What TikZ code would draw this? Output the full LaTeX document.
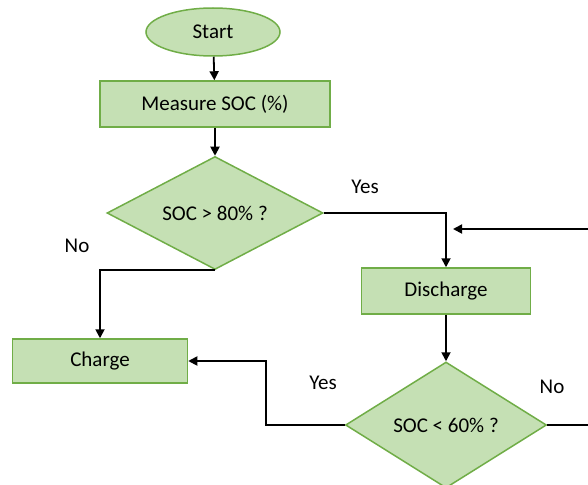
\documentclass[tikz,border=0pt]{standalone}
\usepackage{fontspec}
\setmainfont{Carlito}
\usetikzlibrary{shapes.geometric, arrows.meta}

\definecolor{boxfill}{HTML}{C5E0B4}
\definecolor{boxline}{HTML}{70AD47}

\tikzset{
  block/.style={draw=boxline, fill=boxfill, line width=1.5pt, inner sep=0pt, font=\fontsize{21}{25}\selectfont},
  startbox/.style={block, ellipse, minimum width=134pt, minimum height=48pt},
  stepbox/.style={block, rectangle, minimum height=46pt},
  testbox/.style={block, diamond, minimum width=216pt, minimum height=113pt},
  flow/.style={line width=1.8pt, black},
  tip/.style={-{Triangle[width=9pt, length=9pt]}},
  lbl/.style={font=\fontsize{21}{25}\selectfont}
}

\begin{document}
\begin{tikzpicture}[x=1pt, y=-1pt]

  \useasboundingbox (0,0) rectangle (588,484);
  \clip (0,0) rectangle (588,484);

  % blocks (diamond texts go in as centred labels so the shapes keep their size)
  \node[startbox] (start) at (213, 32) {Start};
  \node[stepbox, minimum width=230pt] (measure) at (215, 104) {Measure SOC (\%)};
  \node[testbox, label={[lbl]center:SOC > 80\% ?}] (high) at (215, 213) {};
  \node[stepbox, minimum width=169pt] (discharge) at (446, 291) {Discharge};
  \node[stepbox, minimum width=175pt, minimum height=44pt] (charge) at (100, 361) {Charge};
  \node[testbox, minimum width=201pt, minimum height=126pt, label={[lbl]center:SOC < 60\% ?}] (low) at (446, 425) {};

  % bends and loose ends
  \coordinate (l3) at (266, 361);
  \coordinate (back) at (588, 229);
  \coordinate (backtip) at (453, 229);
  \coordinate (out) at (588, 425);

  % labels
  \node[lbl] (yes1) at (365, 187) {Yes};
  \node[lbl] (no1) at (77, 246) {No};
  \node[lbl] (yes2) at (323, 383) {Yes};
  \node[lbl] (no2) at (552, 387) {No};

  % arrows
  \draw[flow, tip] (start) -- (measure);
  \draw[flow, tip] (measure) -- (high);
  \draw[flow, tip] (high.east) -| (discharge.north);
  \draw[flow, tip] (back) -- (backtip);
  \draw[flow, tip] (high.south) -| (charge.north);
  \draw[flow, tip] (discharge) -- (low);
  \draw[flow, tip] (low.west) -| (l3) -- (charge.east);
  \draw[flow] (low.east) -- (out);

\end{tikzpicture}
\end{document}
